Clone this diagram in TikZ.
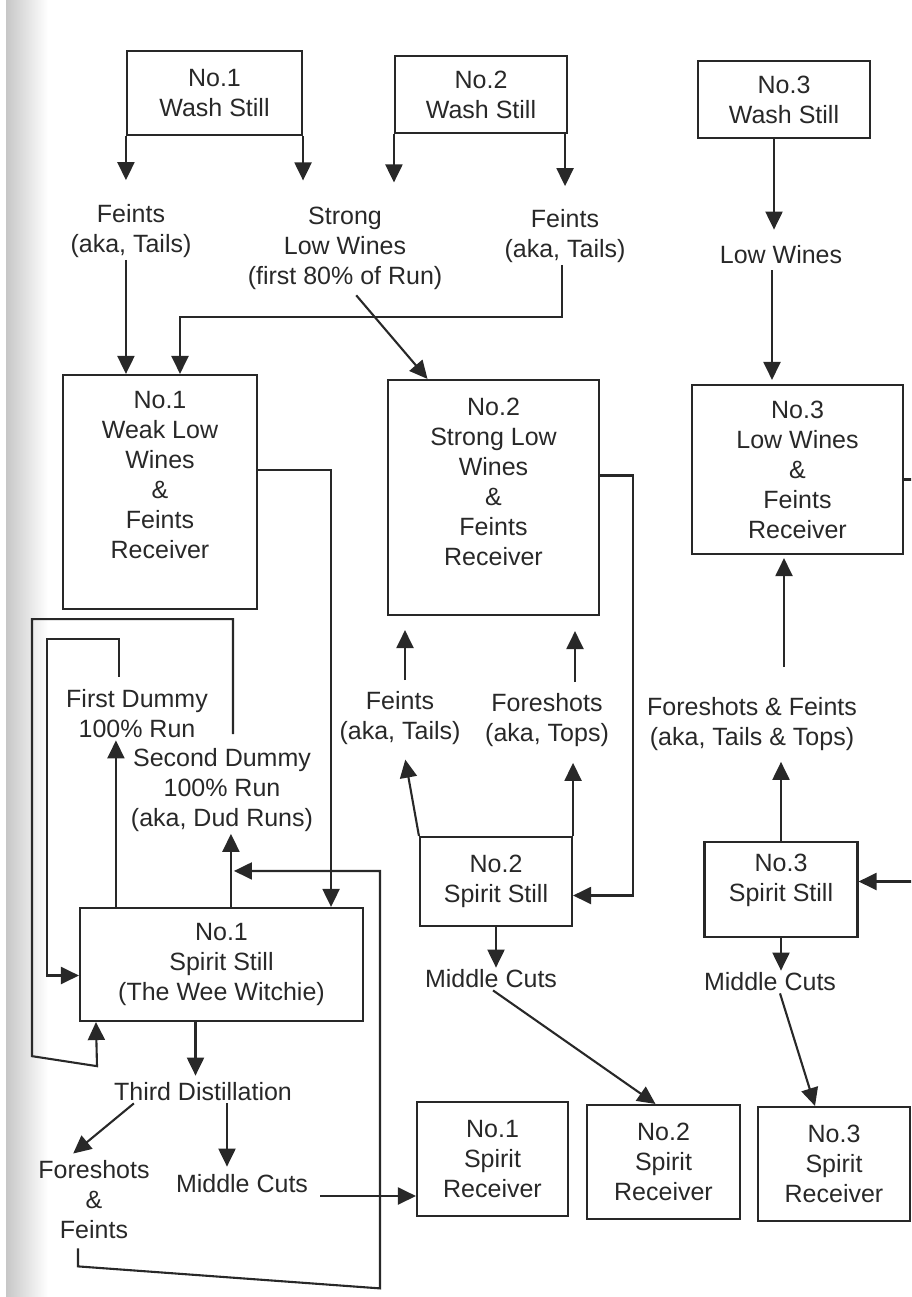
\documentclass[tikz,border=0pt]{standalone}
\usepackage{fontspec}
\setmainfont{Liberation Sans}
\usepackage{tikz}
\usetikzlibrary{arrows.meta}
\definecolor{ink}{RGB}{40,40,40}
\tikzset{
  >={Triangle[length=18pt,width=17pt]},
  box/.style={draw=ink,line width=2.1pt,align=center,inner sep=0pt},
  lbl/.style={align=center,inner sep=2pt},
  flow/.style={->,draw=ink,line width=2.1pt}
}
\begin{document}
\begin{tikzpicture}[x=1pt,y=-1pt,text=ink,font=\fontsize{25}{30}\selectfont]
\useasboundingbox (0,0) rectangle (911,1297);
\clip (0,0) rectangle (911,1297);
\shade[left color=black!22,right color=white] (6,0) rectangle (48,1297);

\node[box,minimum width=175pt,minimum height=84pt] (ws1) at (214.5,93) {No.1\\Wash Still};
\node[box,minimum width=172pt,minimum height=77pt] (ws2) at (481,94.5) {No.2\\Wash Still};
\node[box,minimum width=172pt,minimum height=77pt] (ws3) at (784,99.5) {No.3\\Wash Still};

\node[lbl] (feints1) at (131,231) {Feints\\(aka, Tails)};
\node[lbl] (strong) at (345,248) {Strong\\Low Wines\\(first 80\% of Run)};
\node[lbl] (feints2) at (565,236) {Feints\\(aka, Tails)};
\node[lbl] (low3) at (781,255) {Low Wines};

\node[box,minimum width=194pt,minimum height=234pt,text depth=34pt] (rcv1) at (160,492) {No.1\\Weak Low\\Wines\\\&\\Feints\\Receiver};
\node[box,minimum width=211pt,minimum height=235pt,text depth=32pt] (rcv2) at (493.5,497.5) {No.2\\Strong Low\\Wines\\\&\\Feints\\Receiver};
\node[box,minimum width=211pt,minimum height=169pt] (rcv3) at (797.5,469.5) {No.3\\Low Wines\\\&\\Feints\\Receiver};

\node[lbl] (dummy1) at (137,714) {First Dummy\\100\% Run};
\node[lbl] (dummy2) at (222,790) {Second Dummy\\100\% Run\\(aka, Dud Runs)};
\node[lbl] (feints3) at (400,718) {Feints\\(aka, Tails)};
\node[lbl] (tops) at (547,720) {Foreshots\\(aka, Tops)};
\node[lbl] (ft3) at (752,724) {Foreshots \& Feints\\(aka, Tails \& Tops)};

\node[box,minimum width=283pt,minimum height=113pt] (ss1) at (221.5,964.5) {No.1\\Spirit Still\\(The Wee Witchie)};
\node[box,minimum width=152pt,minimum height=89pt] (ss2) at (496,881.5) {No.2\\Spirit Still};
\node[box,minimum width=153pt,minimum height=95pt,text depth=23pt] (ss3) at (781,889.5) {No.3\\Spirit Still};

\node[lbl] (mc2) at (491,979) {Middle Cuts};
\node[lbl] (mc3) at (770,982) {Middle Cuts};
\node[lbl] (third) at (203,1092) {Third Distillation};
\node[lbl] (fore) at (94,1200) {Foreshots\\\&\\Feints};
\node[lbl] (mc1) at (242,1184) {Middle Cuts};

\node[box,minimum width=151pt,minimum height=114pt] (rec1) at (492.5,1159) {No.1\\Spirit\\Receiver};
\node[box,minimum width=153pt,minimum height=114pt] (rec2) at (663.5,1162) {No.2\\Spirit\\Receiver};
\node[box,minimum width=152pt,minimum height=114pt] (rec3) at (834,1164) {No.3\\Spirit\\Receiver};

\draw[flow,shorten >=22pt] (ws1.south west) -- (ws1.south west |- feints1.north);
\draw[flow,shorten >=24pt] (ws1.south east) -- (ws1.south east |- strong.north);
\draw[flow,shorten >=22pt] (ws2.south west) -- (ws2.south west |- strong.north);
\draw[flow,shorten >=21pt] ([xshift=-3pt]ws2.south east) -- ([xshift=-3pt]ws2.south east |- feints2.north);
\draw[flow,shorten >=14pt] ([xshift=-10pt]ws3.south) -- ([xshift=-10pt]ws3.south |- low3.north);
\draw[flow,shorten <=4pt,shorten >=4pt] ([xshift=-9pt]low3.south) -- ([xshift=-9pt]low3.south |- rcv3.north);

\draw[flow] (ws1.south west |- feints1.south) -- (ws1.south west |- rcv1.north);
\draw[flow] ([xshift=-3pt]feints2.south) -- ++(0,52) -| ([xshift=20pt]rcv1.north);
\draw[flow,shorten <=5pt] ([xshift=8pt]strong.south) -- ([xshift=-66pt]rcv2.north);

\draw[flow] ([yshift=22pt]rcv1.east) -| ([xshift=-33pt]ss1.north east);
\draw[flow] ([yshift=22pt]rcv2.east) -- ++(33,0) |- ([yshift=-14pt]ss2.east);
\draw[flow] ([yshift=-10pt]rcv3.east) -- ++(25,0) |- ([yshift=8pt]ss3.east);

\draw[flow,shorten <=9pt,shorten >=14pt] ([xshift=5pt]feints3.north) -- ([xshift=5pt]feints3.north |- rcv2.south);
\draw[flow,shorten <=9pt,shorten >=15pt] ([xshift=28pt]tops.north) -- ([xshift=28pt]tops.north |- rcv2.south);
\draw[flow,shorten >=13pt] (ss2.north west) -- ([xshift=3pt]feints3.south);
\draw[flow,shorten >=14pt] (ss2.north east) -- (ss2.north east |- tops.south);
\draw[flow,shorten >=9pt] (ss3.north) -- (ss3.north |- ft3.south);
\draw[flow,shorten <=28pt,shorten >=3pt] ([xshift=3pt]ss3.north |- ft3.north) -- ([xshift=3pt]ss3.north |- rcv3.south);

\draw[flow] (ss2.south) -- (ss2.south |- mc2.north);
\draw[flow] (ss3.south) -- (ss3.south |- mc3.north);
\draw[flow] ([xshift=2pt]mc2.south) -- ([xshift=-8pt]rec2.north);
\draw[flow] ([xshift=10pt]mc3.south) -- ([xshift=-19pt]rec3.north);

\draw[flow] ([xshift=37pt]ss1.north west) -- ([xshift=37pt]ss1.north west |- dummy1.south);
\draw[flow] ([xshift=152pt]ss1.north west) -- ([xshift=152pt]ss1.north west |- dummy2.south);
\draw[flow,shorten <=11pt] ([xshift=-18pt]dummy1.north) -- ++(0,-49) -- ++(-72,0) |- ([yshift=-11pt]ss1.west);
\draw[flow,shorten <=12pt] ([xshift=11pt]dummy2.north) -- ++(0,-127) -- ++(-201,0) -- ++(0,437) -- ++(65,10) -- ([xshift=17pt]ss1.south west);

\draw[flow,shorten >=5pt] ([xshift=-26pt]ss1.south) -- ([xshift=-26pt]ss1.south |- third.north);
\draw[flow,shorten >=8pt] ([xshift=22pt]third.south west) -- ([xshift=-27pt]fore.north);
\draw[flow,shorten >=6pt] ([xshift=24pt]third.south) -- ([xshift=24pt]third.south |- mc1.north);
\draw[flow,shorten <=10pt] ([yshift=-12pt]mc1.east) -- ([yshift=-12pt]mc1.east -| rec1.west);
\draw[flow,shorten <=7pt] ([xshift=-16pt]fore.south) -- ++(0,25) -- ++(302,22) |- ([xshift=155pt,yshift=36pt]ss1.north west);
\end{tikzpicture}
\end{document}
